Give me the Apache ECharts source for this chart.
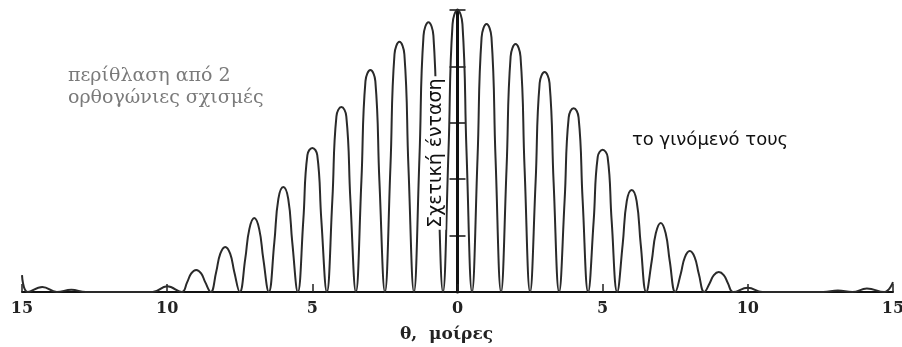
<!DOCTYPE html>
<html>
<head>
<meta charset="utf-8">
<script src="https://cdn.jsdelivr.net/npm/echarts@6/dist/echarts.min.js"></script>
<style>
  html, body { margin: 0; padding: 0; background: #fff; }
  #chart { width: 902px; height: 347px; }
</style>
</head>
<body>
<div id="chart"></div>
<script>
// γωνία θ σε μοίρες
var theta = [
  -15, -14.8, -14.3, -13.8, -13.3, -12.8, -11, -10.5, -10,
  -9.5, -9.31, -9.17, -9, -8.83, -8.69,
  -8.5, -8.31, -8.17, -8, -7.83, -7.69,
  -7.5, -7.31, -7.17, -7, -6.83, -6.69,
  -6.5, -6.31, -6.17, -6, -5.83, -5.69,
  -5.5, -5.31, -5.17, -5, -4.83, -4.69,
  -4.5, -4.31, -4.17, -4, -3.83, -3.69,
  -3.5, -3.31, -3.17, -3, -2.83, -2.69,
  -2.5, -2.31, -2.17, -2, -1.83, -1.69,
  -1.5, -1.31, -1.17, -1, -0.83, -0.69,
  -0.5, -0.31, -0.17, 0, 0.17, 0.31,
  0.5, 0.69, 0.83, 1, 1.17, 1.31,
  1.5, 1.69, 1.83, 2, 2.17, 2.31,
  2.5, 2.69, 2.83, 3, 3.17, 3.31,
  3.5, 3.69, 3.83, 4, 4.17, 4.31,
  4.5, 4.69, 4.83, 5, 5.17, 5.31,
  5.5, 5.69, 5.83, 6, 6.17, 6.31,
  6.5, 6.69, 6.83, 7, 7.17, 7.31,
  7.5, 7.69, 7.83, 8, 8.17, 8.31,
  8.5, 8.69, 8.83, 9, 9.17, 9.31,
  9.5, 10, 10.5, 11, 12.6, 13.1, 13.6, 14.1, 14.7, 15
];
// σχετική ένταση (διαβασμένη από το σχήμα)
var intensity = [
  0.06, 0, 0.018, 0, 0.008, 0, 0, 0, 0.02,
  0, 0.035, 0.066, 0.078, 0.066, 0.035,
  0, 0.072, 0.136, 0.16, 0.136, 0.072,
  0, 0.118, 0.223, 0.262, 0.223, 0.118,
  0, 0.175, 0.33, 0.372, 0.33, 0.175,
  0, 0.256, 0.485, 0.511, 0.485, 0.256,
  0, 0.328, 0.623, 0.656, 0.623, 0.328,
  0, 0.394, 0.748, 0.787, 0.748, 0.394,
  0, 0.444, 0.843, 0.887, 0.843, 0.444,
  0, 0.479, 0.909, 0.957, 0.909, 0.479,
  0, 0.5, 0.95, 1.0, 0.95, 0.5,
  0, 0.475, 0.903, 0.95, 0.903, 0.475,
  0, 0.44, 0.835, 0.879, 0.835, 0.44,
  0, 0.39, 0.741, 0.78, 0.741, 0.39,
  0, 0.326, 0.619, 0.652, 0.619, 0.326,
  0, 0.252, 0.479, 0.504, 0.479, 0.252,
  0, 0.17, 0.322, 0.362, 0.322, 0.17,
  0, 0.11, 0.208, 0.245, 0.208, 0.11,
  0, 0.065, 0.123, 0.145, 0.123, 0.065,
  0, 0.032, 0.06, 0.071, 0.06, 0.032,
  0, 0.015, 0, 0, 0, 0.005, 0, 0.012, 0, 0.035
];
var xTicks = [-15, -10, -5, 0, 5, 10, 15];

var chart = echarts.init(document.getElementById('chart'));
var points = theta.map(function (t, i) { return [t, intensity[i]]; });

var option = {
  backgroundColor: '#fff',
  animation: false,
  grid: { left: 22, right: 9, top: 10, bottom: 55, containLabel: false, outerBoundsMode: 'none' },
  xAxis: {
    type: 'value',
    min: -15,
    max: 15,
    interval: 5,
    axisLine: { onZero: false, lineStyle: { color: '#111', width: 2 } },
    axisTick: { inside: true, length: 8, lineStyle: { color: '#222', width: 1.5 } },
    splitLine: { show: false },
    axisLabel: {
      margin: 9,
      color: '#222',
      fontFamily: 'DejaVu Serif',
      fontWeight: 'bold',
      fontSize: 16,
      formatter: function (v) { return xTicks.indexOf(v) >= 0 ? String(Math.abs(v)) : ''; }
    }
  },
  yAxis: [
    {
      type: 'value',
      min: 0,
      max: 1,
      interval: 0.2,
      axisLine: { show: true, onZero: true, lineStyle: { color: '#111', width: 3 } },
      axisTick: { show: true, inside: true, length: 8, lineStyle: { color: '#111', width: 1.5 } },
      axisLabel: { show: false },
      splitLine: { show: false }
    },
    {
      type: 'value',
      position: 'left',
      offset: -435.5,
      min: 0,
      max: 1,
      interval: 0.2,
      axisLine: { show: false },
      axisTick: { show: true, inside: false, length: 8, lineStyle: { color: '#111', width: 1.5 } },
      axisLabel: { show: false },
      splitLine: { show: false }
    }
  ],
  series: [
    {
      type: 'line',
      data: points,
      smooth: 0.45,
      showSymbol: false,
      lineStyle: { color: '#2a2a2a', width: 2 }
    }
  ],
  graphic: [
    {
      type: 'text', left: 68, top: 65,
      style: {
        text: 'περίθλαση από 2\nορθογώνιες σχισμές',
        fill: '#7a7a7a', font: '19px "DejaVu Serif"', lineHeight: 22
      }
    },
    {
      type: 'text', left: 632, top: 131,
      style: { text: 'το γινόμενό τους', fill: '#111', font: '18px "DejaVu Sans"' }
    },
    {
      type: 'text', x: 436, y: 153, rotation: Math.PI / 2, z: 10,
      style: {
        text: 'Σχετική ένταση', fill: '#111', font: '19px "DejaVu Sans"',
        align: 'center', verticalAlign: 'middle',
        backgroundColor: '#fff', padding: [0, 2]
      }
    },
    {
      type: 'text', left: 400, top: 326,
      style: { text: 'θ,  μοίρες', fill: '#222', font: 'bold 17px "DejaVu Serif"' }
    }
  ]
};
chart.setOption(option);
</script>
</body>
</html>
